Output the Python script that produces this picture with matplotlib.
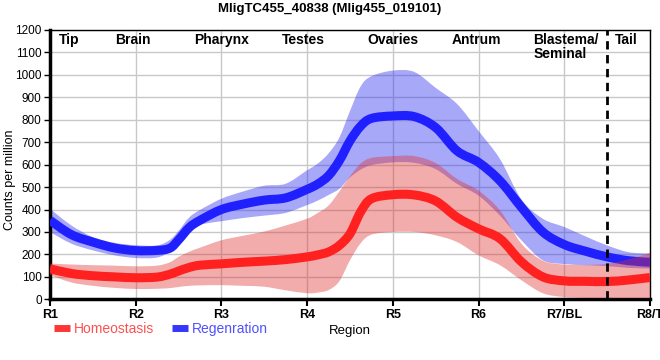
import matplotlib
matplotlib.use('Agg')
import matplotlib.pyplot as plt
from matplotlib.path import Path
from matplotlib.patches import PathPatch
from matplotlib.lines import Line2D

plt.rcParams['font.family'] = ['Liberation Sans', 'DejaVu Sans']

# positions along the body (0 = R1 ... 7 = R8/T)
pos = [0, 0.25, 0.5, 0.75, 1, 1.25, 1.4, 1.5, 1.625, 1.75, 2, 2.25, 2.5, 2.75,
       3, 3.125, 3.25, 3.375, 3.5, 3.625, 3.75, 4, 4.25, 4.5, 4.75, 5, 5.25,
       5.5, 5.75, 6, 6.25, 6.5, 6.75, 7]

regen_mean = [352, 288, 255, 229, 217, 218, 228, 265, 320, 352, 400, 424, 442, 452,
              490, 514, 551, 617, 706, 772, 806, 817, 814, 765, 661, 610, 528,
              410, 300, 244, 214, 189, 172, 165]
regen_hi = [403, 329, 277, 252, 241, 240, 265, 305, 365, 398, 448, 480, 506, 515,
            575, 605, 650, 720, 839, 949, 994, 1019, 1013, 942, 870, 750, 625,
            445, 359, 322, 280, 240, 210, 204]
regen_lo = [300, 248, 218, 196, 184, 186, 215, 263, 314, 333, 348, 362, 373, 385,
            420, 440, 465, 492, 543, 578, 598, 610, 608, 580, 514, 462, 373,
            263, 174, 157, 152, 148, 140, 137]

homeo_mean = [136, 115, 105, 100, 96, 99, 112, 126, 142, 152, 158, 165, 170, 177,
              189, 198, 211, 240, 292, 390, 448, 466, 465, 438, 365, 314, 270,
              167, 100, 82, 80, 79, 86, 97]
homeo_hi = [159, 155, 152, 150, 147, 150, 165, 189, 212, 230, 263, 283, 302, 329,
            359, 385, 418, 480, 548, 605, 630, 638, 638, 607, 536, 484, 396,
            248, 172, 155, 153, 158, 178, 207]
homeo_lo = [108, 75, 60, 51, 46, 47, 50, 55, 60, 62, 63, 60, 56, 40,
            27, 30, 41, 80, 174, 250, 288, 300, 300, 285, 255, 196, 152,
            85, 27, 10, 6, 5, 5, 5]

tick_labels = ['R1', 'R2', 'R3', 'R4', 'R5', 'R6', 'R7/BL', 'R8/T']
region_names = ['Tip', 'Brain', 'Pharynx', 'Testes', 'Ovaries', 'Antrum',
                'Blastema/\nSeminal', 'Tail']
region_x = [0.22, 0.97, 2.0, 2.96, 4.0, 4.97, 5.64, 6.72]
region_ha = ['center'] * 6 + ['left', 'center']


def curve(xs, ys):
    # smooth path through the read points (catmull-rom as bezier segments)
    n = len(xs)
    verts = [(xs[0], ys[0])]
    codes = [Path.MOVETO]
    for i in range(n - 1):
        xa, ya = (xs[i-1], ys[i-1]) if i > 0 else (xs[i], ys[i])
        xb, yb = (xs[i+2], ys[i+2]) if i + 2 < n else (xs[i+1], ys[i+1])
        verts.append((xs[i] + (xs[i+1] - xa) / 6, ys[i] + (ys[i+1] - ya) / 6))
        verts.append((xs[i+1] - (xb - xs[i]) / 6, ys[i+1] - (yb - ys[i]) / 6))
        verts.append((xs[i+1], ys[i+1]))
        codes += [Path.CURVE4] * 3
    return verts, codes


def band(ax, lo, hi, color, alpha, z):
    v1, c1 = curve(pos, hi)
    v2, c2 = curve(pos[::-1], lo[::-1])
    verts = v1 + v2 + [v1[0]]
    codes = c1 + [Path.LINETO] + c2[1:] + [Path.CLOSEPOLY]
    ax.add_patch(PathPatch(Path(verts, codes), facecolor=color, alpha=alpha,
                           lw=0, zorder=z))


def line(ax, ys, color, z):
    v, c = curve(pos, ys)
    ax.add_patch(PathPatch(Path(v, c), fill=False, edgecolor=color, lw=6.5,
                           joinstyle='round', capstyle='butt', zorder=z))


fig = plt.figure(figsize=(6.6, 3.6), dpi=100)
ax = fig.add_axes([50/660, 60.7/360, 600/660, 269.3/360])

band(ax, regen_lo, regen_hi, '#3030f0', 0.42, 2)
line(ax, regen_mean, '#2020ff', 3)
band(ax, homeo_lo, homeo_hi, '#e03030', 0.4, 4)
line(ax, homeo_mean, '#ff2020', 5)

ax.axvline(6.5, color='black', lw=2, ls=(0, (3, 2)), zorder=6)

ax.set_xlim(0, 7)
ax.set_ylim(0, 1200)
ax.set_yticks(range(0, 1201, 100))
ax.set_xticks(range(8))
ax.set_xticklabels(tick_labels, fontweight='bold', fontsize=9)
ax.tick_params(axis='y', labelsize=8.5, length=4, width=1, pad=2)
ax.tick_params(axis='x', length=5, width=1.5, pad=2)
ax.grid(True, color='#c8c8c8', lw=1, zorder=0)
ax.set_axisbelow(True)

ax.spines['left'].set_linewidth(2.5)
ax.spines['bottom'].set_linewidth(2.5)
ax.spines['top'].set_linewidth(1)
ax.spines['right'].set_linewidth(1)

for name, x, ha in zip(region_names, region_x, region_ha):
    ax.text(x, 1185, name, ha=ha, va='top', fontsize=10, fontweight='bold',
            linespacing=1.0, zorder=7)

fig.text(0.5, 0.975, 'MligTC455_40838 (Mlig455_019101)', ha='center',
         va='center', fontsize=9.5, fontweight='bold')
fig.text(0.015, 0.5, 'Counts per million', rotation=90, ha='center',
         va='center', fontsize=9)
fig.text(350/660, 1 - 331/360, 'Region', ha='center', va='center', fontsize=9.5)

handles = [Line2D([], [], color='#ff2020', lw=5, alpha=0.9, solid_capstyle='butt'),
           Line2D([], [], color='#2020ff', lw=5, alpha=0.9, solid_capstyle='butt')]
fig.legend(handles=handles, labels=['Homeostasis', 'Regenration'],
           loc='center left', bbox_to_anchor=(42/660, 1 - 329/360),
           ncol=2, frameon=False, fontsize=10, handlelength=1.1,
           handletextpad=0.3, columnspacing=1.3,
           labelcolor=['#ff5050', '#5050ff'])

plt.savefig('out.png', dpi=100)
